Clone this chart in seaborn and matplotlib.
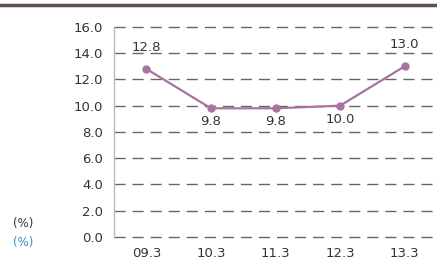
import matplotlib
matplotlib.use("Agg")
import matplotlib.pyplot as plt
from matplotlib.lines import Line2D
import seaborn as sns
import pandas as pd

periods = ["09.3", "10.3", "11.3", "12.3", "13.3"]
rates = [12.8, 9.8, 9.8, 10.0, 13.0]
label_above = [True, False, False, False, True]
y_ticks = [0, 2, 4, 6, 8, 10, 12, 14, 16]

sns.set_style("white")
plt.rcParams['font.family'] = ['DejaVu Sans']

df = pd.DataFrame({"pos": range(len(periods)), "rate": rates})

fig = plt.figure(figsize=(4.37, 2.61), dpi=100)
ax = fig.add_axes([0.261, 0.092, 0.739, 0.805])

line_color = "#a8739f"
sns.lineplot(data=df, x="pos", y="rate", ax=ax, color=line_color, linewidth=1.6,
             marker="o", markersize=6, markeredgewidth=0, zorder=3)

ax.set_xlim(-0.5, len(periods) - 0.5)
ax.set_ylim(0, 16)
ax.set_yticks(y_ticks)
ax.set_yticklabels([f"{v:.1f}" for v in y_ticks])
ax.set_xticks(range(len(periods)))
ax.set_xticklabels(periods)
ax.set_xticks([i + 0.5 for i in range(len(periods) - 1)], minor=True)
ax.tick_params(axis="x", which="major", length=0, pad=7.5, labelsize=9.5, colors="#333333")
ax.tick_params(axis="x", which="minor", length=4, direction="in", color="#888888", width=0.8)
ax.tick_params(axis="y", length=0, pad=8, labelsize=9.5, colors="#333333")
ax.set_xlabel("")
ax.set_ylabel("")

for v in y_ticks:
    ax.axhline(v, color="#666666", linewidth=1.0, linestyle=(0, (8, 5)), zorder=1, clip_on=False)

for s in ["top", "right", "bottom"]:
    ax.spines[s].set_visible(False)
ax.spines["left"].set_color("#bbbbbb")
ax.spines["left"].set_linewidth(1.0)

for i, (v, up) in enumerate(zip(rates, label_above)):
    ax.annotate(f"{v:.1f}", (i, v), xytext=(0, 11 if up else -5), textcoords="offset points",
                ha="center", va="bottom" if up else "top", fontsize=9.5, color="#333333")

fig.text(0.03, 0.145, "(%)", fontsize=8.5, color="#333333", ha="left", va="center")
fig.text(0.03, 0.069, "(%)", fontsize=8.5, color="#3a8fc4", ha="left", va="center")

fig.add_artist(Line2D([0, 1], [0.98, 0.98], transform=fig.transFigure, color="#5b504c", linewidth=2.5))

fig.savefig("out.png", dpi=100)
